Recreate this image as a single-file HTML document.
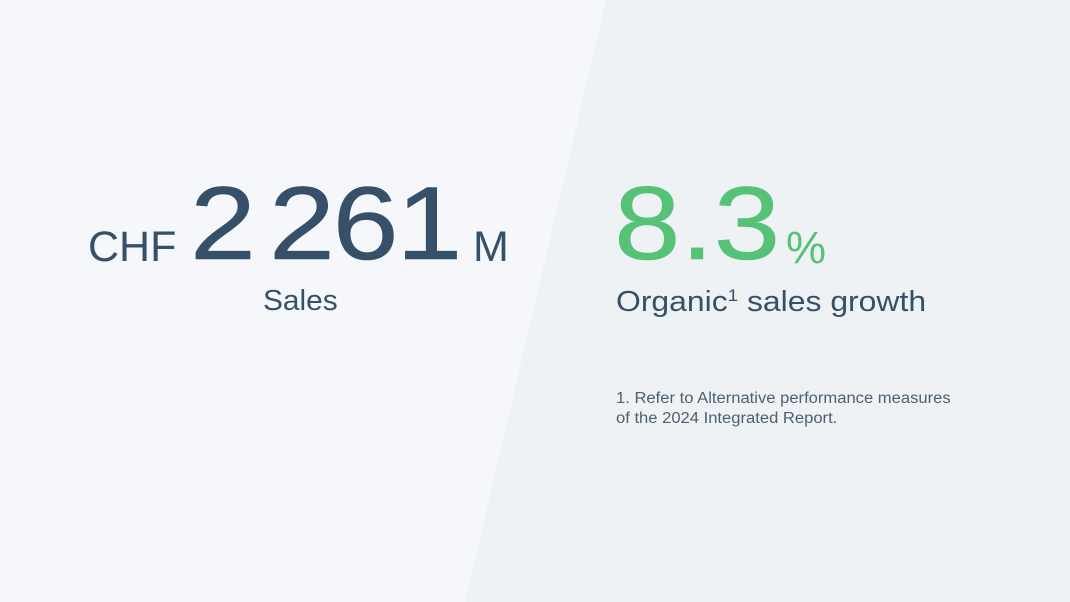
<!DOCTYPE html>
<html><head><meta charset="utf-8"><style>
html,body{margin:0;padding:0}
body{width:1070px;height:602px;position:relative;overflow:hidden;background:#eef2f5;font-family:"Liberation Sans",sans-serif}
.t{position:absolute;white-space:nowrap;line-height:1;transform-origin:left top}
.d{color:#36506a}
.g{color:#55c278}
.big{-webkit-text-stroke:0.6px currentColor}
</style></head><body>
<svg width="1070" height="602" style="position:absolute;left:0;top:0"><polygon points="0,0 606,0 465,602 0,602" fill="#f5f7fa"/></svg>
<div class="t d" style="left:88px;top:226px;font-size:43px">CHF</div>
<div class="t d big" style="left:190px;top:172px;font-size:104px;transform:scaleX(1.14)">2</div>
<div class="t d big" style="left:269px;top:172px;font-size:104px;letter-spacing:-2px;transform:scaleX(1.14)">261</div>
<div class="t d" style="left:473px;top:226px;font-size:43px">M</div>
<div class="t d" style="left:263px;top:287px;font-size:29px;transform:scaleX(1.03)">Sales</div>
<div class="t g big" style="left:614px;top:172px;font-size:104px;transform:scaleX(1.15)">8.3</div>
<div class="t g" style="left:786px;top:225px;font-size:45px">%</div>
<div class="t d" style="left:616px;top:287px;font-size:29px;transform:scaleX(1.1)">Organic<span style="font-size:17px;vertical-align:10px">1</span> sales growth</div>
<div class="t" style="left:616px;top:389px;font-size:15.5px;color:#4d5f70;line-height:20px;transform:scaleX(1.07)">1. Refer to Alternative performance measures<br>of the 2024 Integrated Report.</div>
</body></html>
